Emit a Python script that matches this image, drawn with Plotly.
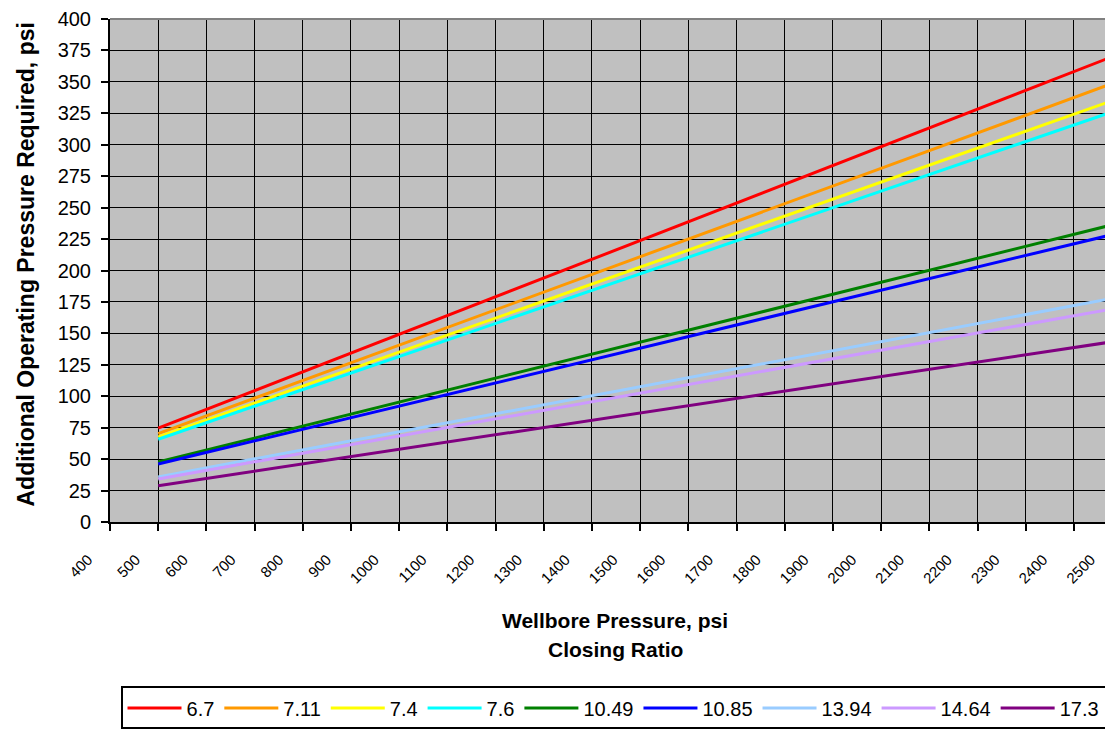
import plotly.graph_objects as go

# wellbore pressure (psi) at which the lines were read
pressure = [500, 1000, 1500, 2000, 2500]

# additional operating pressure required (psi), one list per closing ratio
cr_6_7 = [74.6, 149.3, 223.9, 298.5, 373.1]
cr_7_11 = [70.3, 140.6, 211.0, 281.3, 351.6]
cr_7_4 = [67.6, 135.1, 202.7, 270.3, 337.8]
cr_7_6 = [65.8, 131.6, 197.4, 263.2, 328.9]
cr_10_49 = [47.7, 95.3, 143.0, 190.7, 238.3]
cr_10_85 = [46.1, 92.2, 138.2, 184.3, 230.4]
cr_13_94 = [35.9, 71.7, 107.6, 143.5, 179.3]
cr_14_64 = [34.2, 68.3, 102.5, 136.6, 170.8]
cr_17_3 = [28.9, 57.8, 86.7, 115.6, 144.5]

ratio_names = ["6.7", "7.11", "7.4", "7.6", "10.49", "10.85", "13.94", "14.64", "17.3"]
series = [cr_6_7, cr_7_11, cr_7_4, cr_7_6, cr_10_49, cr_10_85, cr_13_94, cr_14_64, cr_17_3]

# x tick labels
x_ticks = list(range(400, 2600, 100))

colors = ["#FF0000", "#FF9900", "#FFFF00", "#00FFFF", "#008000",
          "#0000FF", "#99CCFF", "#CC99FF", "#800080"]

FONT = "Arial, Liberation Sans, sans-serif"

fig = go.Figure()
for name, vals, c in zip(ratio_names, series, colors):
    fig.add_trace(go.Scatter(
        x=pressure, y=vals, name=name, mode="lines",
        line=dict(color=c, width=3),
    ))

# invisible trace on the label axis so it gets drawn
fig.add_trace(go.Scatter(x=[400], y=[0], xaxis="x2", mode="markers",
                         marker=dict(opacity=0), showlegend=False, hoverinfo="skip"))

x_range = [400, 2481]  # the original is cropped just short of 2500

# the page body has an 8px margin, so the figure is 8px smaller each way
fig.update_layout(
    width=1105, height=722,
    margin=dict(l=102, r=0, t=7, b=208),
    paper_bgcolor="white",
    plot_bgcolor="#C0C0C0",
    font=dict(family=FONT, size=20, color="black"),
    xaxis=dict(
        range=x_range, tickvals=x_ticks, showticklabels=False,
        ticks="outside", ticklen=7, tickwidth=2, tickcolor="black",
        showgrid=True, gridcolor="black", gridwidth=1,
        showline=True, linecolor="black", linewidth=2,
        zeroline=False,
    ),
    # label-only axis so that 400 .. 2500 all show, set a bit left of the ticks
    xaxis2=dict(
        overlaying="x", side="bottom", anchor="y",
        range=[399.9, 2500.1],
        tickvals=x_ticks,
        ticktext=[str(v) for v in x_ticks],
        tickangle=-45, ticks="", showgrid=False, showline=False, zeroline=False,
        tickfont=dict(family=FONT, size=15, color="black"),
        ticklabelstandoff=25, ticklabelshift=-22,
        ticklabeloverflow="allow",
    ),
    yaxis=dict(
        range=[0, 400], dtick=25,
        ticks="outside", ticklen=7, tickwidth=2, tickcolor="black",
        showgrid=True, gridcolor="black", gridwidth=1,
        showline=True, linecolor="black", linewidth=2,
        zeroline=False,
        tickfont=dict(family=FONT, size=20, color="black"),
        ticklabelstandoff=6, ticklabeloverflow="allow",
    ),
    showlegend=True,
    legend=dict(
        orientation="h", x=0.502, xanchor="center", y=-0.327, yanchor="top",
        bordercolor="black", borderwidth=2, bgcolor="white",
        font=dict(family=FONT, size=20, color="black"),
        itemwidth=54,
    ),
    shapes=[dict(type="line", xref="paper", yref="paper", x0=0, x1=1, y0=1, y1=1,
                 line=dict(color="#808080", width=2))],
    annotations=[
        dict(text="<b>Additional Operating Pressure Required, psi</b>",
             xref="paper", yref="paper", x=-0.0837, y=0.512, textangle=-90,
             xanchor="center", yanchor="middle",
             showarrow=False, font=dict(family=FONT, size=23)),
        dict(text="<b>Wellbore Pressure, psi</b>",
             xref="paper", yref="paper", x=0.5035, y=-0.195,
             xanchor="center", yanchor="middle",
             showarrow=False, font=dict(family=FONT, size=21)),
        dict(text="<b>Closing Ratio</b>",
             xref="paper", yref="paper", x=0.5035, y=-0.2525,
             xanchor="center", yanchor="middle",
             showarrow=False, font=dict(family=FONT, size=21)),
    ],
)

fig.write_html("out.html")
